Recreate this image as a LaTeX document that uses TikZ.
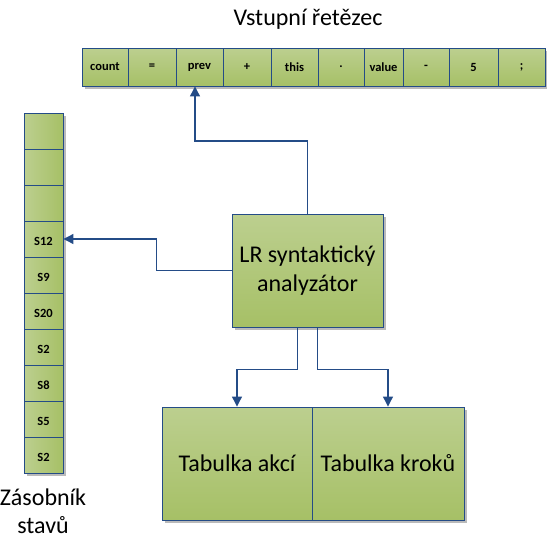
\documentclass[tikz,border=0pt]{standalone}
\usepackage{fontspec}
\setmainfont{Carlito}
\usetikzlibrary{arrows.meta,positioning,shadows}

\definecolor{cellTop}{RGB}{188,207,143}
\definecolor{cellBot}{RGB}{166,192,102}
\definecolor{lineBlue}{RGB}{36,76,135}

\begin{document}
\begin{tikzpicture}[x=1pt,y=-1pt,
    box/.style={draw=lineBlue, line width=0.9pt, inner sep=0pt,
      top color=cellTop, bottom color=cellBot,
      drop shadow={shadow xshift=2.5pt, shadow yshift=-2.5pt, fill=black!45, opacity=.6}},
    tapecell/.style={box, minimum height=38pt, font=\fontsize{12.5}{14}\selectfont\bfseries},
    stackcell/.style={box, left color=cellTop, right color=cellBot, minimum width=39pt, minimum height=36pt,
      text height=12pt, text depth=0pt, font=\fontsize{12.5}{14}\selectfont\bfseries},
    bigbox/.style={box, font=\fontsize{24}{29.5}\selectfont, align=center},
    caption/.style={font=\fontsize{24}{28}\selectfont, align=center},
    arr/.style={draw=lineBlue, line width=1.1pt, -{Triangle[width=10pt,length=10pt]}}]
  \useasboundingbox (0,0) rectangle (547,541);

  % Input string
  \node[caption] (title) at (308,19) {Vstupní řetězec};
  \foreach \n/\l/\r/\t [evaluate=\l as \w using \r-\l] in
      {1/82/128/count, 2/128/176/=, 3/176/223/prev, 4/223/271/+, 5/271/318/this,
       6/318/364/., 7/364/403/value, 8/403/449/-, 9/449/498/5, 10/498/545/;}
    \node[tapecell, minimum width=\w pt] (t\n) at ({(\l+\r)/2},67) {\t};

  % Stack of states
  \foreach \n/\t in {1/,2/,3/,4/S12,5/S9,6/S20,7/S2,8/S8,9/S5,10/S2}
    \node[stackcell] (s\n) at (43.5,{95+36*\n}) {\t};
  \node[caption] (stacklabel) at (43,511) {Zásobník\\stavů};

  % Parser
  \node[bigbox, minimum width=151pt, minimum height=113pt] (lr) at (307.5,270.5) {LR syntaktický\\analyzátor};

  % Tables
  \node[bigbox, minimum width=150pt, minimum height=113pt] (akce) at (237,463.5) {Tabulka akcí};
  \node[bigbox, minimum width=152pt, minimum height=113pt] (kroky) at (388,463.5) {Tabulka kroků};

  % Connectors
  \draw[arr] (lr.north) -- (lr.north |- 0,141) -| ([xshift=-4.5pt]t3.south);
  \draw[arr] (lr.west) -- ++(-75,0) |- (s4.east);
  \draw[arr] ([xshift=-10pt]lr.south) -- ++(0,42) -| (akce.north);
  \draw[arr] ([xshift=10pt]lr.south) -- ++(0,42) -| (kroky.north);
\end{tikzpicture}
\end{document}
